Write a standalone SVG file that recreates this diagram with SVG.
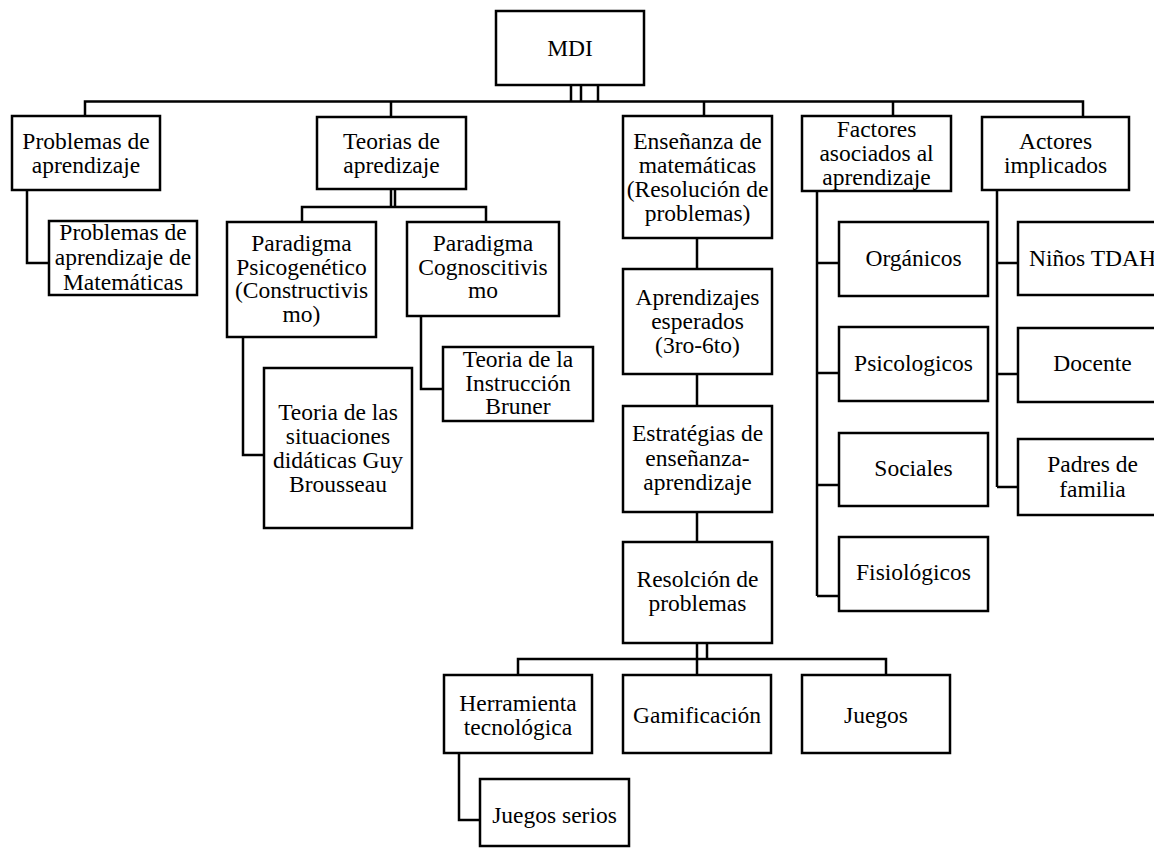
<svg xmlns="http://www.w3.org/2000/svg" width="1154" height="848" viewBox="0 0 1154 848">
<style>
rect{fill:#fff;stroke:#000;stroke-width:2.5}
text{font-family:'Liberation Serif','Times New Roman',serif;font-size:23.5px;fill:#000;text-anchor:middle}
#connectors path{fill:none;stroke:#000;stroke-width:2.5}
</style>
<rect x="0" y="0" width="1154" height="848" style="stroke:none"/>
<g id="connectors">
<path d="M571,85V101.5M581,85V101.5M598,85V101.5"/>
<path d="M85,116V101.5H1083V117M391,101.5V117M704,101.5V116M893,101.5V116"/>
<path d="M27,190V263H49"/>
<path d="M391,189V207M395,189V207M302,222V207H486V222"/>
<path d="M243,337V455H264"/>
<path d="M421,316V389H443"/>
<path d="M697,238V269M697,374V406M697,512V542"/>
<path d="M697,643V659M707,643V659M518,675V659H886V675M697,659V675"/>
<path d="M459,753V820H480"/>
<path d="M817,191V596M817,263H839M817,373H839M817,485H839M817,596H839"/>
<path d="M997,190V487M997,263H1018M997,374H1018M997,487H1018"/>
</g>
<g id="n-mdi"><rect x="496" y="11" width="148" height="74"/><text x="570" y="56">MDI</text></g>
<g id="n-problemas"><rect x="12" y="116" width="148" height="74"/><text x="86" y="149">Problemas de<tspan x="86" dy="24">aprendizaje</tspan></text></g>
<g id="n-teorias"><rect x="317" y="117" width="149" height="72"/><text x="391.5" y="149">Teorias de<tspan x="391.5" dy="24">apredizaje</tspan></text></g>
<g id="n-ensenanza"><rect x="623" y="116" width="149" height="122"/><text x="697.5" y="149">Enseñanza de<tspan x="697.5" dy="24">matemáticas</tspan><tspan x="697.5" dy="24">(Resolución de</tspan><tspan x="697.5" dy="24">problemas)</tspan></text></g>
<g id="n-factores"><rect x="802" y="116" width="149" height="75"/><text x="876.5" y="137">Factores<tspan x="876.5" dy="24">asociados al</tspan><tspan x="876.5" dy="24">aprendizaje</tspan></text></g>
<g id="n-actores"><rect x="982" y="117" width="147" height="73"/><text x="1055.5" y="149">Actores<tspan x="1055.5" dy="24">implicados</tspan></text></g>
<g id="n-matematicas"><rect x="49" y="221" width="148" height="74"/><text x="123" y="240">Problemas de<tspan x="123" dy="25">aprendizaje de</tspan><tspan x="123" dy="25">Matemáticas</tspan></text></g>
<g id="n-psicogenetico"><rect x="227" y="222" width="149" height="115"/><text x="301.5" y="251">Paradigma<tspan x="301.5" dy="23.7">Psicogenético</tspan><tspan x="301.5" dy="23.7">(Constructivis</tspan><tspan x="301.5" dy="23.7">mo)</tspan></text></g>
<g id="n-cognoscitivismo"><rect x="407" y="222" width="152" height="94"/><text x="483" y="251">Paradigma<tspan x="483" dy="23.5">Cognoscitivis</tspan><tspan x="483" dy="23.5">mo</tspan></text></g>
<g id="n-brousseau"><rect x="264" y="368" width="148" height="160"/><text x="338" y="420">Teoria de las<tspan x="338" dy="24">situaciones</tspan><tspan x="338" dy="24">didáticas Guy</tspan><tspan x="338" dy="24">Brousseau</tspan></text></g>
<g id="n-bruner"><rect x="443" y="347" width="150" height="74"/><text x="518" y="367">Teoria de la<tspan x="518" dy="23.5">Instrucción</tspan><tspan x="518" dy="23.5">Bruner</tspan></text></g>
<g id="n-aprendizajes"><rect x="623" y="269" width="149" height="105"/><text x="697.5" y="304.5">Aprendizajes<tspan x="697.5" dy="24">esperados</tspan><tspan x="697.5" dy="24">(3ro-6to)</tspan></text></g>
<g id="n-estrategias"><rect x="623" y="406" width="149" height="106"/><text x="697.5" y="441">Estratégias de<tspan x="697.5" dy="24.5">enseñanza-</tspan><tspan x="697.5" dy="24.5">aprendizaje</tspan></text></g>
<g id="n-resolcion"><rect x="623" y="542" width="149" height="101"/><text x="697.5" y="587">Resolción de<tspan x="697.5" dy="23.5">problemas</tspan></text></g>
<g id="n-organicos"><rect x="839" y="222" width="149" height="74"/><text x="913.5" y="266">Orgánicos</text></g>
<g id="n-psicologicos"><rect x="839" y="327" width="149" height="74"/><text x="913.5" y="371">Psicologicos</text></g>
<g id="n-sociales"><rect x="839" y="433" width="149" height="73"/><text x="913.5" y="476">Sociales</text></g>
<g id="n-fisiologicos"><rect x="839" y="537" width="149" height="74"/><text x="913.5" y="580">Fisiológicos</text></g>
<g id="n-ninos"><rect x="1018" y="222" width="149" height="73"/><text x="1092.5" y="266">Niños TDAH</text></g>
<g id="n-docente"><rect x="1018" y="328" width="149" height="74"/><text x="1092.5" y="371">Docente</text></g>
<g id="n-padres"><rect x="1018" y="439" width="149" height="76"/><text x="1092.5" y="472">Padres de<tspan x="1092.5" dy="25">familia</tspan></text></g>
<g id="n-herramienta"><rect x="444" y="675" width="148" height="78"/><text x="518" y="711">Herramienta<tspan x="518" dy="24">tecnológica</tspan></text></g>
<g id="n-gamificacion"><rect x="623" y="675" width="148" height="78"/><text x="697" y="723">Gamificación</text></g>
<g id="n-juegos"><rect x="802" y="675" width="148" height="78"/><text x="876" y="723">Juegos</text></g>
<g id="n-serios"><rect x="480" y="779" width="149" height="67"/><text x="554.5" y="823">Juegos serios</text></g>
</svg>
